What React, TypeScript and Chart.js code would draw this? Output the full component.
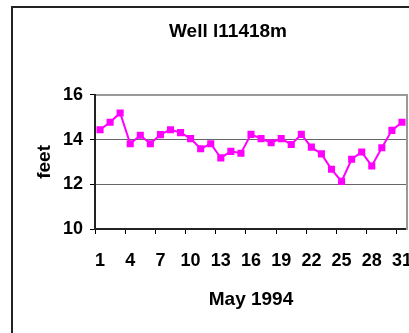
import React, { useEffect, useRef } from "react";
import { Chart, registerables } from "chart.js";

Chart.register(...registerables);

// Daily water level for May 1994
const days: string[] = [
  "1", "2", "3", "4", "5", "6", "7", "8", "9", "10",
  "11", "12", "13", "14", "15", "16", "17", "18", "19", "20",
  "21", "22", "23", "24", "25", "26", "27", "28", "29", "30", "31",
];
const levels: number[] = [
  14.44, 14.77, 15.19, 13.81, 14.19, 13.81, 14.22, 14.44, 14.31, 14.04,
  13.59, 13.81, 13.18, 13.47, 13.39, 14.23, 14.04, 13.86, 14.04, 13.78,
  14.23, 13.66, 13.36, 12.67, 12.13, 13.12, 13.44, 12.82, 13.63, 14.41, 14.77,
];
const yMin = 10;
const yMax = 16;
const yStep = 2;
const labelEvery = 3;

const chartTitle = "Well l11418m";
const xTitle = "May 1994";
const yTitle = "feet";

const FONT = "'Liberation Sans', Arial, Helvetica, sans-serif";
const W = 456;
const H = 350;

export default function App() {
  const canvasRef = useRef<HTMLCanvasElement | null>(null);

  useEffect(() => {
    const canvas = canvasRef.current;
    if (!canvas) return;
    const chart = new Chart(canvas, {
      type: "line",
      data: {
        labels: days,
        datasets: [
          {
            data: levels,
            borderColor: "#FF00FF",
            backgroundColor: "#FF00FF",
            borderWidth: 2,
            pointStyle: "rect",
            pointRadius: 5,
            pointBorderWidth: 0,
            pointBackgroundColor: "#FF00FF",
            tension: 0,
            xAxisID: "x",
            yAxisID: "y",
          },
        ],
      },
      options: {
        responsive: false,
        animation: false,
        devicePixelRatio: 1,
        events: [],
        layout: { padding: 0 },
        plugins: {
          legend: { display: false },
          tooltip: { enabled: false },
          title: {
            display: true,
            text: chartTitle,
            color: "#000",
            font: { family: FONT, size: 19, weight: "bold" },
            padding: { top: 20, bottom: 52 },
          },
        },
        scales: {
          x: {
            type: "category",
            position: "bottom",
            offset: true,
            afterFit: (s: any) => {
              s.height = 121;
            },
            grid: {
              offset: true,
              drawOnChartArea: false,
              drawTicks: true,
              tickLength: 5,
              tickColor: (ctx: any) =>
                typeof ctx.index === "number" && ctx.index % labelEvery === 0
                  ? "#000"
                  : "rgba(0,0,0,0)",
            },
            border: { display: true, color: "#222", width: 2 },
            ticks: {
              autoSkip: false,
              maxRotation: 0,
              minRotation: 0,
              padding: 16,
              color: "#000",
              font: { family: FONT, size: 18, weight: "bold" },
              callback: (_v: any, i: number) => (i % labelEvery === 0 ? days[i] : ""),
            },
            title: {
              display: true,
              text: xTitle,
              color: "#000",
              font: { family: FONT, size: 19, weight: "bold" },
              padding: { top: 0, bottom: 39 },
            },
          },
          xTop: {
            type: "category",
            position: "top",
            offset: true,
            afterFit: (s: any) => {
              s.height = 0;
            },
            grid: { drawOnChartArea: false, drawTicks: false },
            border: { display: true, color: "#999", width: 2 },
            ticks: { display: false },
          },
          y: {
            type: "linear",
            position: "left",
            min: yMin,
            max: yMax,
            afterFit: (s: any) => {
              s.width = 95;
            },
            grid: {
              color: "#666",
              lineWidth: 1,
              drawTicks: true,
              tickLength: 5,
              tickColor: "#000",
            },
            border: { display: true, color: "#222", width: 2 },
            ticks: {
              stepSize: yStep,
              padding: 7,
              color: "#000",
              font: { family: FONT, size: 18, weight: "bold" },
            },
            title: {
              display: true,
              text: yTitle,
              color: "#000",
              font: { family: FONT, size: 19, weight: "bold" },
              padding: { top: 33, bottom: 0 },
            },
          },
          yRight: {
            type: "linear",
            position: "right",
            afterFit: (s: any) => {
              s.width = 49;
            },
            grid: { drawOnChartArea: false, drawTicks: false },
            border: { display: true, color: "#999", width: 2 },
            ticks: { display: false },
          },
        },
      },
    } as any);
    return () => chart.destroy();
  }, []);

  return (
    <div
      style={{
        position: "fixed",
        left: 0,
        top: 0,
        width: 409,
        height: 333,
        overflow: "hidden",
        background: "#fff",
      }}
    >
      <canvas
        ref={canvasRef}
        width={W}
        height={H}
        style={{ position: "absolute", left: 0, top: 0, width: W, height: H }}
      />
      <div
        style={{
          position: "absolute",
          left: 11,
          top: 6,
          width: 440,
          height: 340,
          border: "2px solid #222",
          boxSizing: "border-box",
          pointerEvents: "none",
        }}
      />
    </div>
  );
}
